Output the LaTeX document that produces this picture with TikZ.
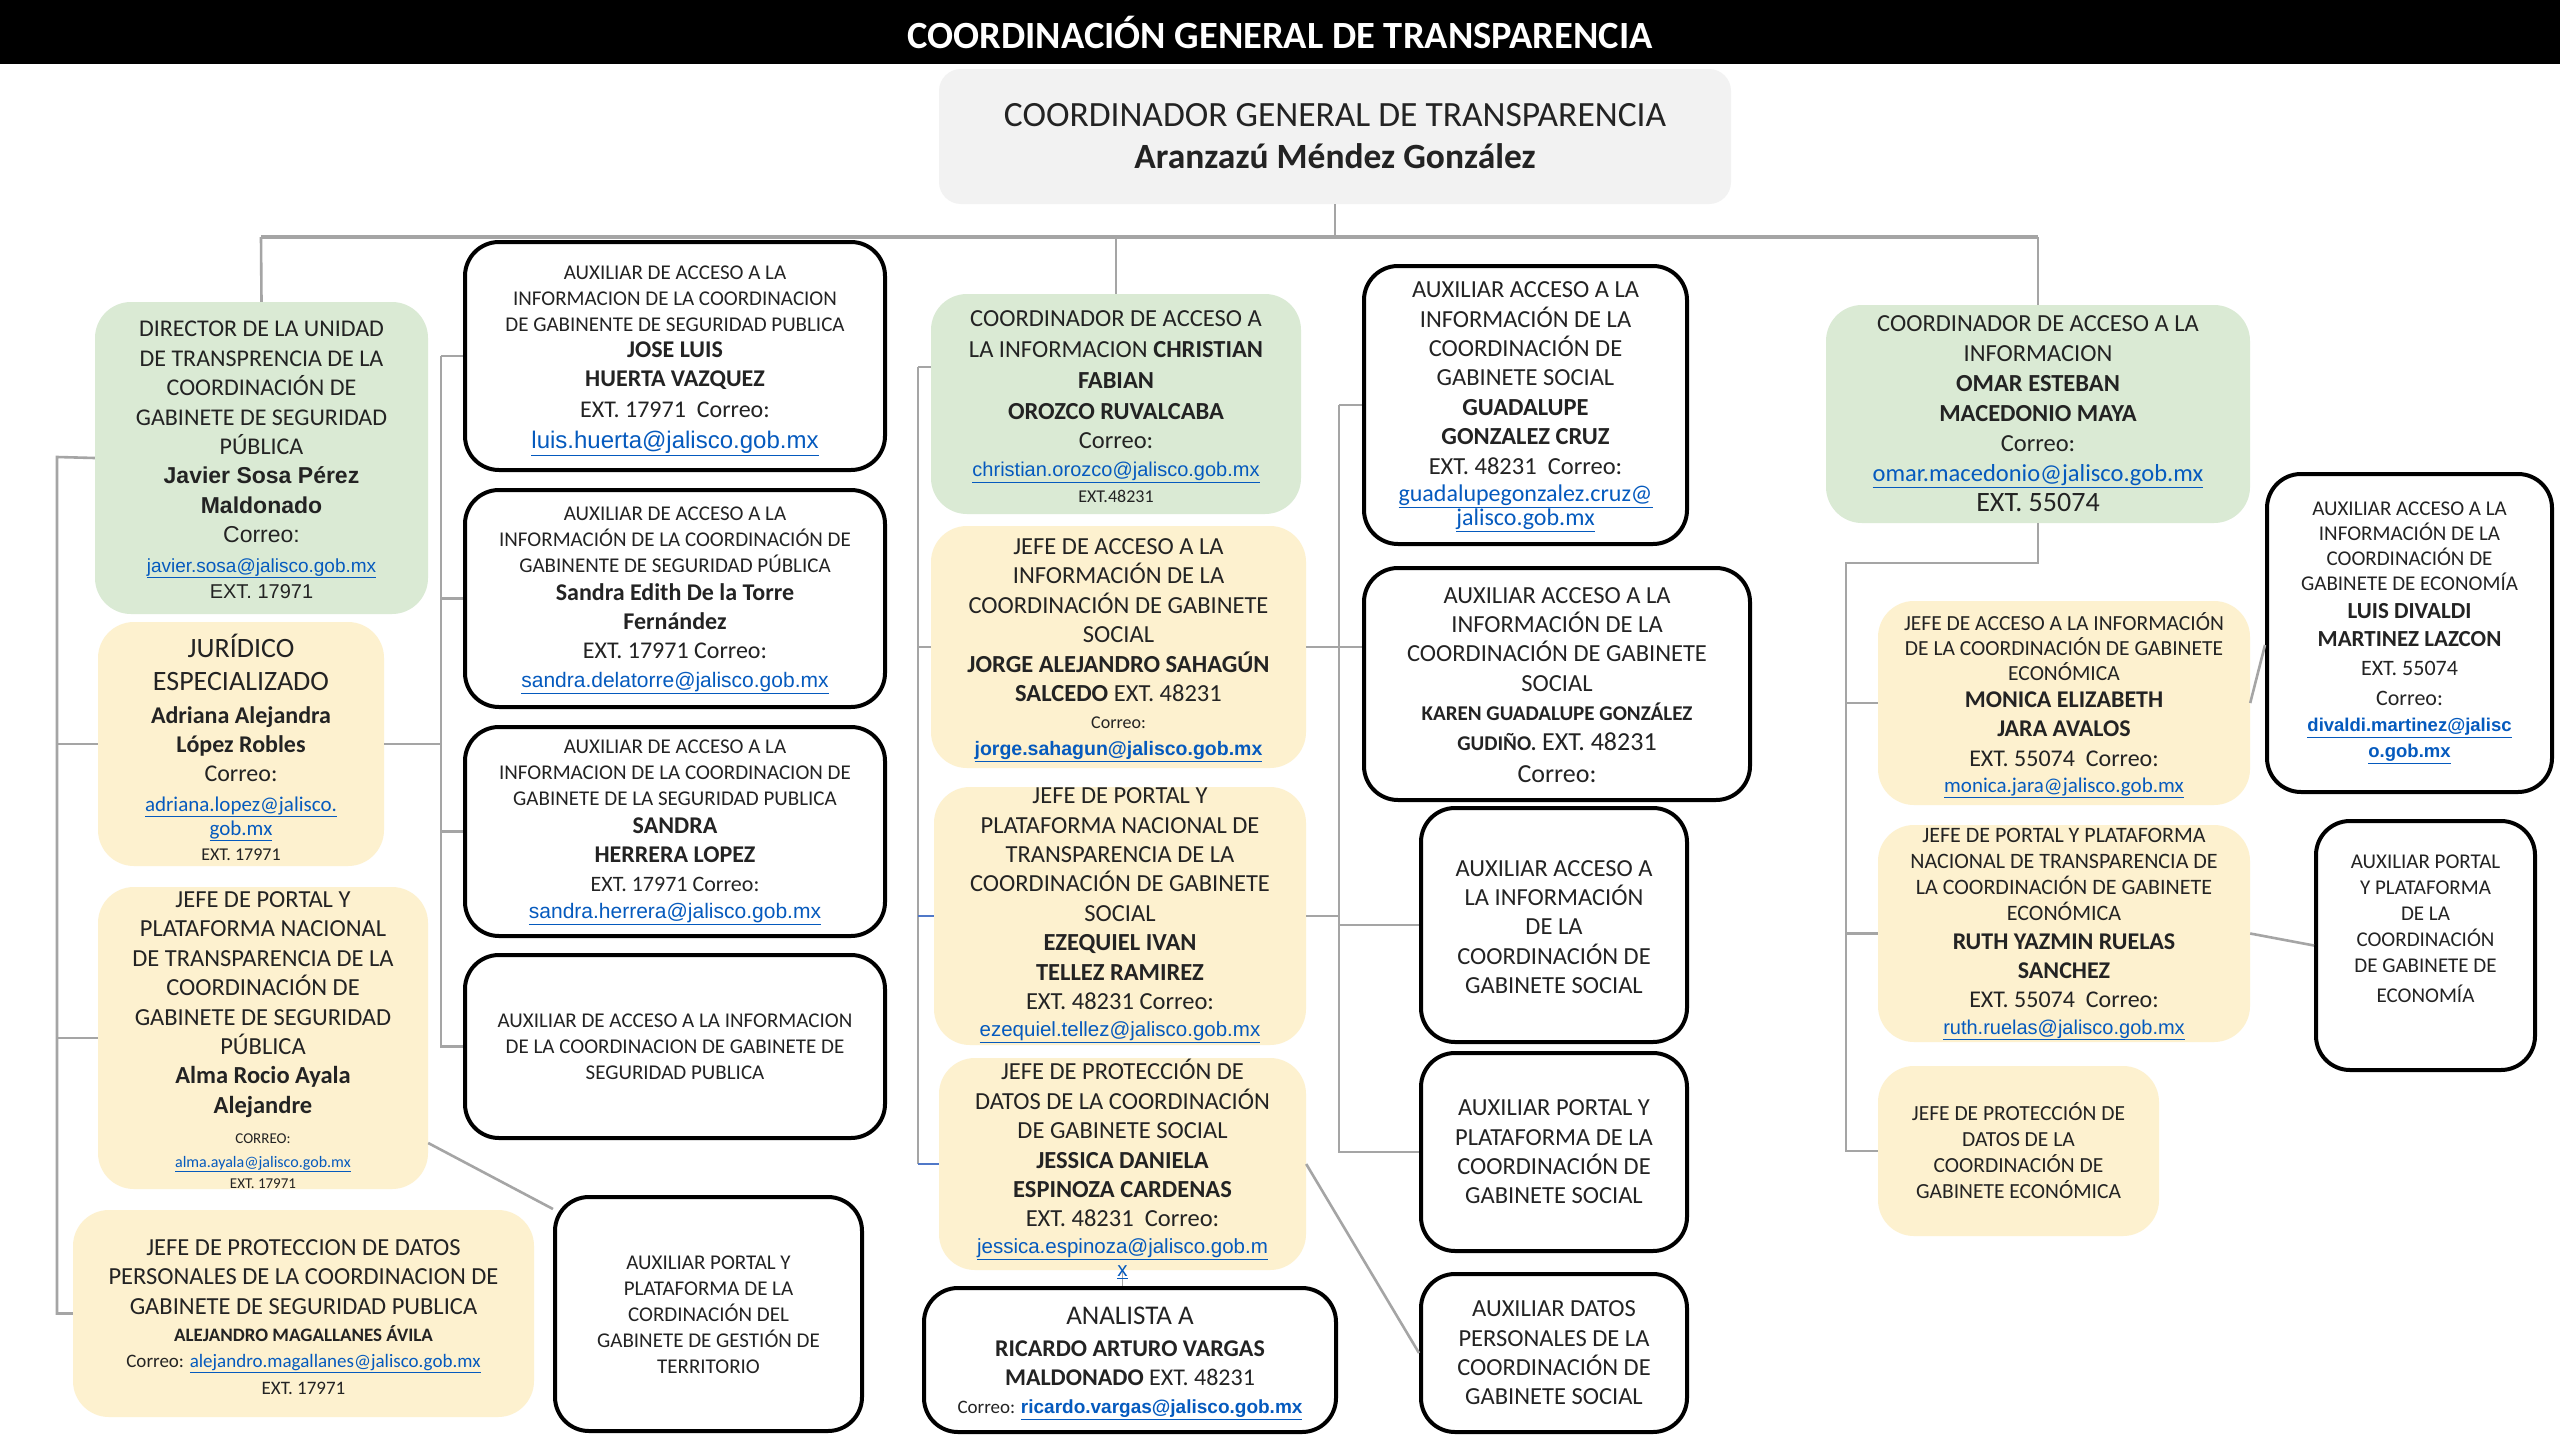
\documentclass[tikz,border=0pt]{standalone}
\usepackage{fontspec}
\setmainfont{Carlito}
\newfontfamily\arialf{Liberation Sans}
\definecolor{grn}{RGB}{218,234,212}
\definecolor{ylw}{RGB}{253,241,207}
\definecolor{topg}{RGB}{242,242,242}
\definecolor{txtc}{RGB}{35,35,35}
\definecolor{lnc}{RGB}{165,165,165}
\definecolor{lnk}{RGB}{5,90,190}
\definecolor{bstub}{RGB}{80,120,200}
\newcommand\fsz[2]{\fontsize{#1}{#2}\selectfont}
\newcommand\fss[1]{\fontsize{#1}{#1}\selectfont}
\newcommand\eml[1]{\textcolor{lnk}{\underline{#1}}}
\tikzset{
  gbox/.style={fill=grn, rounded corners=36, inner sep=0},
  ybox/.style={fill=ylw, rounded corners=36, inner sep=0},
  wbox/.style={draw=black, fill=white, line width=4, rounded corners=34, inner sep=0},
  tx/.style={align=center, inner sep=0, text=txtc},
  conn/.style={draw=lnc, line width=2.6},
  bconn/.style={draw=bstub, line width=2.6},
}
\begin{document}
\begin{tikzpicture}[x=1pt,y=-1pt]
\useasboundingbox (0,0) rectangle (2560,1440);
\fill[white] (0,0) rectangle (2560,1440);

% header
\node[fill=black, text=white, minimum width=2560, minimum height=64, inner sep=0, font=\bfseries\fsz{38.5}{42}] (hdr) at (1280,32) {COORDINACIÓN GENERAL DE TRANSPARENCIA};

% top
\node[fill=topg, rounded corners=22, minimum width=792, minimum height=135, inner sep=0, align=center, text=txtc, font=\fsz{35.5}{42}] (top) at (1335,136.5) {COORDINADOR GENERAL DE TRANSPARENCIA\\\textbf{Aranzazú Méndez González}};

% ---------- boxes ----------
\node[gbox, minimum width=333, minimum height=312] (dir) at (261.5,458) {};
\node[ybox, minimum width=286, minimum height=244] (jur) at (241,744) {};
\node[ybox, minimum width=330, minimum height=302] (jp1) at (263,1038) {};
\node[ybox, minimum width=461, minimum height=207] (jpd1) at (303.5,1313.5) {};

\node[wbox, minimum width=420, minimum height=228] (a1) at (675,356) {};
\node[wbox, minimum width=420, minimum height=217] (a2) at (675,598.5) {};
\node[wbox, minimum width=420, minimum height=209] (a3) at (675,831.5) {};
\node[wbox, minimum width=420, minimum height=183] (a4) at (675,1046.5) {};
\node[wbox, minimum width=307, minimum height=234] (apt) at (708.5,1314) {};

\node[gbox, minimum width=370, minimum height=220] (cch) at (1116,404) {};
\node[ybox, minimum width=375, minimum height=242] (jas) at (1118.5,647) {};
\node[ybox, minimum width=372, minimum height=258] (jpsoc) at (1120,916) {};
\node[ybox, minimum width=367, minimum height=212] (jps) at (1122.5,1164) {};
\node[wbox, minimum width=412, minimum height=144] (ana) at (1130,1360) {};

\node[wbox, minimum width=323, minimum height=278] (gua) at (1525.5,405) {};
\node[wbox, minimum width=386, minimum height=232] (kar) at (1557,684) {};
\node[wbox, minimum width=266, minimum height=234] (aas) at (1554,925) {};
\node[wbox, minimum width=266, minimum height=198] (aps) at (1554,1152) {};
\node[wbox, minimum width=266, minimum height=158] (ads) at (1554,1353) {};

\node[gbox, minimum width=424, minimum height=218] (omar) at (2038,414) {};
\node[ybox, minimum width=372, minimum height=204] (jae) at (2064,703) {};
\node[ybox, minimum width=372, minimum height=217] (jpe) at (2064,933.5) {};
\node[ybox, minimum width=281, minimum height=170] (jpde) at (2018.5,1151) {};
\node[wbox, minimum width=285, minimum height=318] (luis) at (2409.5,633) {};
\node[wbox, minimum width=219, minimum height=249] (ape) at (2425.5,945.5) {};

% ---------- connectors ----------
\coordinate (busM) at (1335,237);
\coordinate (busL) at (261,237);
\coordinate (busR) at (2038,237);
\draw[conn] (top.south) -- (busM);
\draw[conn, line width=3.2] (busL) -- (busR);
\draw[conn] (busL) -- (dir.north);
\draw[conn] (cch.north |- busL) -- (cch.north);
\draw[conn] (busR) -- (omar.north);

% column 1 bracket
\coordinate (c1x) at (57,457);
\draw[conn] (dir.west) -- (c1x) |- (jpd1.west);
\draw[conn] (c1x |- jur.west) -- (jur.west);
\draw[conn] (c1x |- jp1.west) -- (jp1.west);

% column 2 bracket
\coordinate (c2x) at (441,356);
\draw[conn] (c2x) -- (a1.west);
\draw[conn] (c2x) |- (a4.west);
\draw[conn] (c2x |- a2.west) -- (a2.west);
\draw[conn] (c2x |- a3.west) -- (a3.west);
\draw[conn] (jur.east) -- (c2x |- jur.east);
\draw[conn] ([yshift=-105]jp1.east) -- ([yshift=-14]apt.north west);

% column 3 bracket
\coordinate (c3x) at (918,367);
\draw[conn] (c3x) -- (c3x -| cch.west);
\draw[conn] (c3x) |- (c3x |- jps.west);
\draw[conn] (c3x |- jas.west) -- (jas.west);
\draw[bconn] (c3x |- jpsoc.west) -- (jpsoc.west);
\draw[bconn] (c3x |- jps.west) -- (jps.west);
\draw[conn, line width=1.5] (jps.south) -- (jps.south |- ana.north);

% column 4 bracket
\coordinate (c4x) at (1339,405);
\draw[conn] (c4x) -- (gua.west);
\draw[conn] (c4x) -- (c4x |- aps.west) -- (aps.west);
\draw[conn] (jas.east) -- (jas.east -| kar.west);
\draw[conn] (jpsoc.east) -- (jpsoc.east -| c4x);
\draw[conn] (c4x |- aas.west) -- (aas.west);
\draw[conn] (jps.east) -- (ads.west);

% column 5 bracket
\coordinate (c5) at (1846,563);
\draw[conn] (omar.south) |- (c5) |- (jpde.west);
\draw[conn] (c5 |- jae.west) -- (jae.west);
\draw[conn] (c5 |- jpe.west) -- (jpe.west);
\draw[conn] (jae.east) -- ([yshift=-12]luis.west);
\draw[conn] (jpe.east) -- (ape.west);

% ---------- texts ----------
\node[tx, font=\fsz{24}{29.4}] (dir-t) at (261.5,460) {DIRECTOR DE LA UNIDAD\\DE TRANSPRENCIA DE LA\\COORDINACIÓN DE\\GABINETE DE SEGURIDAD\\PÚBLICA\\{\arialf\bfseries\fss{23}Javier Sosa Pérez}\\{\arialf\bfseries\fss{23}Maldonado}\\{\arialf\fss{23}Correo:}\\{\arialf\fss{19}\eml{javier.sosa@jalisco.gob.mx}}\\[-3pt]{\arialf\fss{20}EXT. 17971}};

\node[tx, font=\fsz{24}{29.4}] (jur-t) at (241,747) {{\fss{28}JURÍDICO}\\[4pt]{\fss{28}ESPECIALIZADO}\\[3pt]{\bfseries Adriana Alejandra}\\{\bfseries López Robles}\\Correo:\\{\fss{21}\eml{adriana.lopez@jalisco.}}\\[-5pt]{\fss{21}\eml{gob.mx}}\\[-5pt]{\fss{18}EXT. 17971}};

\node[tx, font=\fsz{24.5}{29.4}] (jp1-t) at (263,1040) {JEFE DE PORTAL Y\\PLATAFORMA NACIONAL\\DE TRANSPARENCIA DE LA\\COORDINACIÓN DE\\GABINETE DE SEGURIDAD\\PÚBLICA\\{\bfseries Alma Rocio Ayala}\\{\bfseries Alejandre}\\[1pt]{\fss{15}CORREO:}\\[-6pt]{\fss{16}\eml{alma.ayala@jalisco.gob.mx}}\\[-8pt]{\fss{15}EXT. 17971}};

\node[tx, font=\fsz{24.5}{29.4}] (jpd1-t) at (303.5,1317) {JEFE DE PROTECCION DE DATOS\\PERSONALES DE LA COORDINACION DE\\GABINETE DE SEGURIDAD PUBLICA\\[-2pt]{\bfseries\fss{19}ALEJANDRO MAGALLANES ÁVILA}\\[-3pt]{\fss{19}Correo: \eml{alejandro.magallanes@jalisco.gob.mx}}\\[-3pt]{\fss{19}EXT. 17971}};

\node[tx, font=\fsz{21}{26}] (a1-t) at (675,361) {AUXILIAR DE ACCESO A LA\\INFORMACION DE LA COORDINACION\\DE GABINENTE DE SEGURIDAD PUBLICA\\{\bfseries\fss{24}JOSE LUIS}\\[3pt]{\bfseries\fss{24}HUERTA VAZQUEZ}\\[5pt]{\fss{24}EXT. 17971\ \ Correo:}\\[5pt]{\arialf\fss{24}\eml{luis.huerta@jalisco.gob.mx}}};

\node[tx, font=\fsz{21}{26}] (a2-t) at (675,600) {AUXILIAR DE ACCESO A LA\\INFORMACIÓN DE LA COORDINACIÓN DE\\GABINENTE DE SEGURIDAD PÚBLICA\\[2pt]{\bfseries\fss{24}Sandra Edith De la Torre}\\[3pt]{\bfseries\fss{24}Fernández}\\[3pt]{\fss{24}EXT. 17971 Correo:}\\[3pt]{\arialf\fss{21}\eml{sandra.delatorre@jalisco.gob.mx}}};

\node[tx, font=\fsz{21}{26}] (a3-t) at (675,832) {AUXILIAR DE ACCESO A LA\\INFORMACION DE LA COORDINACION DE\\GABINETE DE LA SEGURIDAD PUBLICA\\[2pt]{\bfseries\fss{24}SANDRA}\\[3pt]{\bfseries\fss{24}HERRERA LOPEZ}\\[3pt]{\fss{22}EXT. 17971 Correo:}\\[1pt]{\arialf\fss{21}\eml{sandra.herrera@jalisco.gob.mx}}};

\node[tx, font=\fsz{21}{26}] (a4-t) at (675,1046.5) {AUXILIAR DE ACCESO A LA INFORMACION\\DE LA COORDINACION DE GABINETE DE\\SEGURIDAD PUBLICA};

\node[tx, font=\fsz{21}{26}] (apt-t) at (708.5,1314.5) {AUXILIAR PORTAL Y\\PLATAFORMA DE LA\\CORDINACIÓN DEL\\GABINETE DE GESTIÓN DE\\TERRITORIO};

\node[tx, font=\fsz{24.5}{31}] (cch-t) at (1116,406.6) {COORDINADOR DE ACCESO A\\LA INFORMACION \textbf{CHRISTIAN}\\\textbf{FABIAN}\\\textbf{OROZCO RUVALCABA}\\[-1.5pt]Correo:\\[-3pt]{\arialf\fss{20}\eml{christian.orozco@jalisco.gob.mx}}\\[-5pt]{\fss{18}EXT.48231}};

\node[tx, font=\fsz{24.5}{29.4}] (jas-t) at (1118.5,650) {JEFE DE ACCESO A LA\\INFORMACIÓN DE LA\\COORDINACIÓN DE GABINETE\\SOCIAL\\\textbf{JORGE ALEJANDRO SAHAGÚN}\\\textbf{SALCEDO} EXT. 48231\\[-2pt]{\fss{18}Correo:}\\[-3pt]{\arialf\bfseries\fss{19.5}\eml{jorge.sahagun@jalisco.gob.mx}}};

\node[tx, font=\fsz{24.5}{29.4}] (jpsoc-t) at (1120,915.5) {JEFE DE PORTAL Y\\PLATAFORMA NACIONAL DE\\TRANSPARENCIA DE LA\\COORDINACIÓN DE GABINETE\\SOCIAL\\\textbf{EZEQUIEL IVAN}\\\textbf{TELLEZ RAMIREZ}\\EXT. 48231 Correo:\\[-2pt]{\arialf\fss{20.5}\eml{ezequiel.tellez@jalisco.gob.mx}}};

\node[tx, font=\fsz{24.5}{29.4}] (jps-t) at (1122.5,1169) {JEFE DE PROTECCIÓN DE\\DATOS DE LA COORDINACIÓN\\DE GABINETE SOCIAL\\\textbf{JESSICA DANIELA}\\\textbf{ESPINOZA CARDENAS}\\EXT. 48231\ \ Correo:\\[-3pt]{\arialf\fss{20.5}\eml{jessica.espinoza@jalisco.gob.m}}\\[-6pt]{\arialf\fss{20.5}\eml{x}}};

\node[tx, font=\fsz{24}{29.4}] (ana-t) at (1130,1363) {{\fss{27}ANALISTA A}\\[3pt]\textbf{RICARDO ARTURO VARGAS}\\\textbf{MALDONADO} EXT. 48231\\[-2pt]{\fss{19}Correo: {\arialf\bfseries\eml{ricardo.vargas@jalisco.gob.mx}}}};

\node[tx, font=\fsz{24.5}{29.4}] (gua-t) at (1525.5,407) {AUXILIAR ACCESO A LA\\INFORMACIÓN DE LA\\COORDINACIÓN DE\\GABINETE SOCIAL\\\textbf{GUADALUPE}\\\textbf{GONZALEZ CRUZ}\\EXT. 48231\ \ Correo:\\[-2pt]{\fss{24}\eml{guadalupegonzalez.cruz@}}\\[-5pt]{\fss{24}\eml{jalisco.gob.mx}}};

\node[tx, font=\fsz{24.5}{29.4}] (kar-t) at (1557,685) {AUXILIAR ACCESO A LA\\INFORMACIÓN DE LA\\COORDINACIÓN DE GABINETE\\SOCIAL\\{\bfseries\fss{21}KAREN GUADALUPE GONZÁLEZ}\\{\bfseries\fss{21}GUDIÑO.} {\fss{26}EXT. 48231}\\[3pt]{\fss{26}Correo:}};

\node[tx, font=\fsz{24.5}{29.4}] (aas-t) at (1554,927) {AUXILIAR ACCESO A\\LA INFORMACIÓN\\DE LA\\COORDINACIÓN DE\\GABINETE SOCIAL};
\node[tx, font=\fsz{24.5}{29.4}] (aps-t) at (1554,1152) {AUXILIAR PORTAL Y\\PLATAFORMA DE LA\\COORDINACIÓN DE\\GABINETE SOCIAL};
\node[tx, font=\fsz{24.5}{29.4}] (ads-t) at (1554,1353) {AUXILIAR DATOS\\PERSONALES DE LA\\COORDINACIÓN DE\\GABINETE SOCIAL};

\node[tx, font=\fsz{24.5}{30}] (omar-t) at (2038,414) {COORDINADOR DE ACCESO A LA\\INFORMACION\\\textbf{OMAR ESTEBAN}\\\textbf{MACEDONIO MAYA}\\Correo:\\\eml{omar.macedonio@jalisco.gob.mx}\\{\fss{28}EXT. 55074}};

\node[tx, font=\fsz{21.5}{25}] (jae-t) at (2064,705) {JEFE DE ACCESO A LA INFORMACIÓN\\DE LA COORDINACIÓN DE GABINETE\\ECONÓMICA\\[2pt]{\bfseries\fss{24}MONICA ELIZABETH}\\[4pt]{\bfseries\fss{24}JARA AVALOS}\\[5pt]{\fss{24}EXT. 55074\ \ Correo:}\\[1pt]{\fss{21}\eml{monica.jara@jalisco.gob.mx}}};

\node[tx, font=\fsz{22}{26}] (jpe-t) at (2064,934) {JEFE DE PORTAL Y PLATAFORMA\\NACIONAL DE TRANSPARENCIA DE\\LA COORDINACIÓN DE GABINETE\\ECONÓMICA\\[3pt]{\bfseries\fss{24}RUTH YAZMIN RUELAS}\\[3pt]{\bfseries\fss{24}SANCHEZ}\\[3pt]{\fss{24}EXT. 55074\ \ Correo:}\\[1pt]{\arialf\fss{20}\eml{ruth.ruelas@jalisco.gob.mx}}};

\node[tx, font=\fsz{21.5}{26}] (jpde-t) at (2018.5,1151) {JEFE DE PROTECCIÓN DE\\DATOS DE LA\\COORDINACIÓN DE\\GABINETE ECONÓMICA};

\node[tx, font=\fsz{21}{25}] (luis-t) at (2409.5,633) {AUXILIAR ACCESO A LA\\INFORMACIÓN DE LA\\COORDINACIÓN DE\\GABINETE DE ECONOMÍA\\[3pt]{\bfseries\fss{23}LUIS DIVALDI}\\[3pt]{\bfseries\fss{23}MARTINEZ LAZCON}\\[4pt]{\fss{22}EXT. 55074}\\[5pt]{\fss{22}Correo:}\\[1pt]{\arialf\bfseries\fss{18.5}\eml{divaldi.martinez@jalisc}}\\[1pt]{\arialf\bfseries\fss{18.5}\eml{o.gob.mx}}};

\node[tx, font=\fsz{21}{26}] (ape-t) at (2425.5,929) {AUXILIAR PORTAL\\Y PLATAFORMA\\DE LA\\COORDINACIÓN\\DE GABINETE DE\\[4pt]ECONOMÍA};

\end{tikzpicture}
\end{document}
